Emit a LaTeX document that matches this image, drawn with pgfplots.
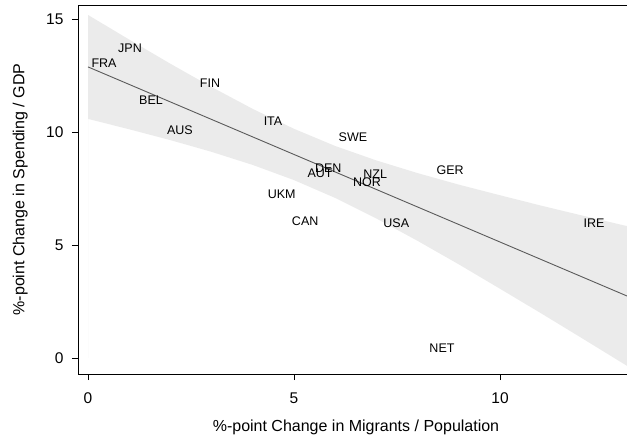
\documentclass[border=0pt]{standalone}
\usepackage{pgfplots}
\pgfplotsset{compat=1.18}
\usepackage{fontspec}
\setmainfont{Liberation Sans}
\definecolor{band}{HTML}{EBEBEB}
\definecolor{fitline}{HTML}{5A5A5A}
\begin{document}
\begin{tikzpicture}
\begin{axis}[
  at={(0,0)}, anchor=south west,
  scale only axis, width=556pt, height=369pt,
  xmin=-0.243, xmax=13.25, ymin=-0.71, ymax=15.62,
  xtick={0,5,10}, ytick={0,5,10,15},
  xtick pos=bottom, ytick pos=left,
  tick align=outside, major tick length=6pt,
  tick style={black, line width=0.8pt},
  axis line style={black, line width=0.9pt},
  /pgf/number format/assume math mode=true,
  ticklabel style={font=\fontsize{15.5}{18}\selectfont},
  xticklabel style={yshift=-9pt},
  yticklabel style={xshift=-5pt},
  xlabel={\%-point Change in Migrants / Population},
  ylabel={\%-point Change in Spending / GDP},
  label style={font=\fontsize{16}{19}\selectfont},
  xlabel style={anchor=center, at={(axis description cs:0.5,-0.1436)}},
  ylabel style={anchor=center, rotate=0, at={(axis description cs:-0.104,0.5)}},
  every node near coord/.style={anchor=center, font=\fontsize{12.5}{14}\selectfont, black},
]
\addplot[fill=band, draw=none] coordinates {
(0,15.18) (1,14.09) (2,13.02) (3,11.99) (4,11.02) (5,10.14) (6,9.38) (7,8.74) (8,8.18) (9,7.67) (10,7.20) (11,6.74) (12,6.30) (13,5.87) (13.25,5.77)
(13.25,-0.54) (13,-0.26) (12,0.86) (11,1.97) (10,3.06) (9,4.14) (8,5.18) (7,6.17) (6,7.08) (5,7.87) (4,8.54) (3,9.12) (2,9.64) (1,10.12) (0,10.58)
} \closedcycle;
\addplot[draw=none, mark=none, nodes near coords, point meta=explicit symbolic]
table[meta=lab] {
x y lab
1.02 13.72 JPN
0.39 13.05 FRA
2.96 12.17 FIN
1.53 11.42 BEL
2.23 10.09 AUS
4.49 10.49 ITA
4.70 7.26 UKM
5.27 6.06 CAN
6.43 9.78 SWE
5.83 8.41 DEN
5.63 8.19 AUT
6.97 8.14 NZL
6.77 7.79 NOR
8.79 8.32 GER
7.48 5.97 USA
12.28 5.97 IRE
8.59 0.44 NET
};
\addplot[fitline, line width=0.9pt] coordinates {(0,12.88) (13.25,2.611)};
\end{axis}
\pgfresetboundingbox
\path[use as bounding box] (-78pt,-66pt) rectangle (549pt,374pt);
\end{tikzpicture}
\end{document}
